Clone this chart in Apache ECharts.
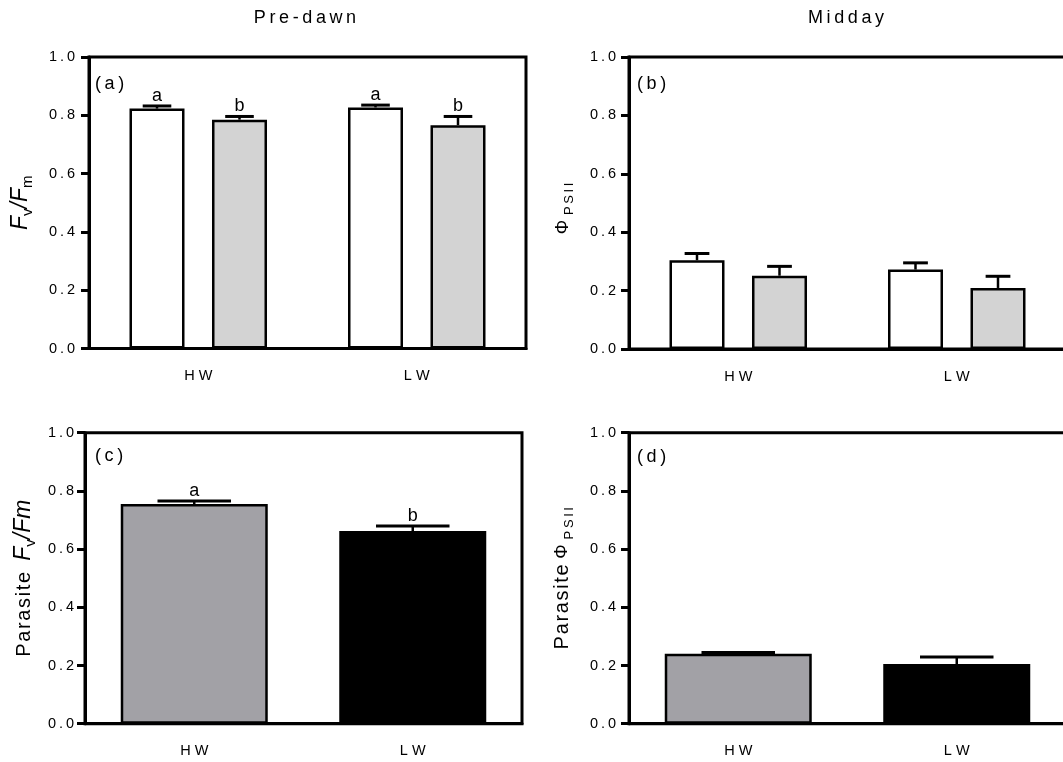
<!DOCTYPE html>
<html>
<head>
<meta charset="utf-8">
<script src="https://cdn.jsdelivr.net/npm/echarts@6/dist/echarts.min.js"></script>
<style>
  html, body { margin: 0; padding: 0; background: #fff; }
  #chart { width: 1063px; height: 762px; }
</style>
</head>
<body>
<div id="chart"></div>
<script>
// ---- data ----
const categories = ['HW', 'LW'];

// (a) pre-dawn host Fv/Fm
const predawnOpen = [0.823, 0.827];
const predawnOpenErr = [0.009, 0.008];
const predawnShaded = [0.785, 0.766];
const predawnShadedErr = [0.011, 0.030];
const predawnOpenLetters = ['a', 'a'];
const predawnShadedLetters = ['b', 'b'];

// (b) midday host PhiPSII
const middayOpen = [0.304, 0.272];
const middayOpenErr = [0.023, 0.023];
const middayShaded = [0.251, 0.209];
const middayShadedErr = [0.032, 0.040];

// (c) parasite Fv/Fm
const parasiteFvFm = [0.755, 0.662];
const parasiteFvFmErr = [0.010, 0.017];
const parasiteFvFmLetters = ['a', 'b'];

// (d) parasite PhiPSII
const parasitePhi = [0.240, 0.205];
const parasitePhiErr = [0.005, 0.024];

// ---- styling ----
const FONT = '"Liberation Sans", Arial, Helvetica, sans-serif';
const INK = '#000';
const OPEN_FILL = '#ffffff';
const SHADED_FILL = '#d3d3d3';
const PARASITE_FILLS = ['#a2a1a6', '#000000'];

// widen text with thin spaces between glyphs
const track = (s, gap) => s.split('').join(gap);

const GROUP_BAR_W = 55;
const GROUP_GAP = 0.5;              // fraction of bar width between paired bars
const SINGLE_BAR_W = 147;

const grids = [
  { left: 89, top: 57, width: 437, height: 291.5 },
  { left: 629, top: 57, width: 437, height: 292 },
  { left: 85, top: 432.7, width: 437, height: 291 },
  { left: 629, top: 432.7, width: 437, height: 291 }
].map(g => Object.assign({
  show: true, borderColor: '#000', borderWidth: 3,
  backgroundColor: 'transparent', outerBoundsMode: 'none', containLabel: false
}, g));

const labelMargins = [14, 13, 11, 13];

const xAxes = grids.map((g, i) => ({
  type: 'category', gridIndex: i, data: categories,
  axisLine: { lineStyle: { color: '#000', width: 3 } },
  axisTick: { alignWithLabel: true, length: 8, lineStyle: { color: '#000', width: 3 } },
  axisLabel: { margin: 20, fontSize: 14.5, fontFamily: FONT, color: INK,
               formatter: v => track(v, ' ') },
  splitLine: { show: false }
}));

const nameRich = {
  i: { fontSize: 23, fontStyle: 'italic', fontFamily: FONT, color: INK, lineHeight: 28, verticalAlign: 'middle' },
  s: { fontSize: 15, fontFamily: FONT, color: INK, lineHeight: 12, verticalAlign: 'bottom' },
  n: { fontSize: 20, fontFamily: FONT, color: INK, lineHeight: 28, verticalAlign: 'middle' },
  p: { fontSize: 18, fontFamily: FONT, color: INK, lineHeight: 26, verticalAlign: 'middle' },
  ps: { fontSize: 13, fontFamily: FONT, color: INK, lineHeight: 10, verticalAlign: 'bottom' }
};

const PSII = track('PSII', '\u2009');
const yNames = [
  '{i|F}{s|v}{i|/F}{s|m}',
  '{p|\u03A6 }{ps|' + PSII + '   }',
  '{n|' + track('Parasite', '\u200A') + '  }{i|F}{s|v}{i|/Fm}',
  '{n|' + track('Parasite', '\u200A') + ' }{p|\u03A6 }{ps|' + PSII + '}'
];
const nameGaps = [54, 53, 47, 53];

const yAxes = grids.map((g, i) => ({
  type: 'value', gridIndex: i, min: 0, max: 1, interval: 0.2,
  name: yNames[i], nameLocation: 'middle', nameGap: nameGaps[i],
  nameTextStyle: { rich: nameRich },
  axisLine: { show: true, lineStyle: { color: '#000', width: 3 } },
  axisTick: { show: true, length: 8, lineStyle: { color: '#000', width: 3 } },
  axisLabel: { margin: labelMargins[i], fontSize: 14.5, fontFamily: FONT, color: INK,
               formatter: v => track(v.toFixed(1), '\u2009') },
  splitLine: { show: false }
}));

function barSeries(gridIdx, name, values, fill, width, gap) {
  return {
    type: 'bar', name, xAxisIndex: gridIdx, yAxisIndex: gridIdx,
    data: values.map((v, k) => ({
      value: v,
      itemStyle: { color: Array.isArray(fill) ? fill[k] : fill }
    })),
    barWidth: width, barGap: (gap * 100) + '%',
    itemStyle: { borderColor: '#000', borderWidth: 2.5 },
    z: 2
  };
}

// error bar (upper whisker + cap) with an optional letter on top
function errSeries(gridIdx, values, errs, letters, offset, capW) {
  return {
    type: 'custom', xAxisIndex: gridIdx, yAxisIndex: gridIdx, z: 3,
    data: values.map((v, k) => [k, v, errs[k]]),
    renderItem: (params, api) => {
      const k = api.value(0), v = api.value(1), e = api.value(2);
      const base = api.coord([k, v]);
      const top = api.coord([k, v + e]);
      const x = base[0] + offset;
      const kids = [
        { type: 'line', shape: { x1: x, y1: base[1], x2: x, y2: top[1] },
          style: { stroke: '#000', lineWidth: 2.5 } },
        { type: 'line', shape: { x1: x - capW / 2, y1: top[1], x2: x + capW / 2, y2: top[1] },
          style: { stroke: '#000', lineWidth: 3 } }
      ];
      if (letters) {
        kids.push({ type: 'text', x: x, y: top[1] - 1,
          style: { text: letters[params.dataIndex], fontSize: 18, fontFamily: FONT,
                   fill: INK, align: 'center', verticalAlign: 'bottom' } });
      }
      return { type: 'group', children: kids };
    }
  };
}

const pairOffset = GROUP_BAR_W * (1 + GROUP_GAP) / 2;

const series = [
  barSeries(0, 'open', predawnOpen, OPEN_FILL, GROUP_BAR_W, GROUP_GAP),
  barSeries(0, 'shaded', predawnShaded, SHADED_FILL, GROUP_BAR_W, GROUP_GAP),
  errSeries(0, predawnOpen, predawnOpenErr, predawnOpenLetters, -pairOffset, GROUP_BAR_W * 0.52),
  errSeries(0, predawnShaded, predawnShadedErr, predawnShadedLetters, pairOffset, GROUP_BAR_W * 0.52),

  barSeries(1, 'open', middayOpen, OPEN_FILL, GROUP_BAR_W, GROUP_GAP),
  barSeries(1, 'shaded', middayShaded, SHADED_FILL, GROUP_BAR_W, GROUP_GAP),
  errSeries(1, middayOpen, middayOpenErr, null, -pairOffset, GROUP_BAR_W * 0.45),
  errSeries(1, middayShaded, middayShadedErr, null, pairOffset, GROUP_BAR_W * 0.45),

  barSeries(2, 'parasite', parasiteFvFm, PARASITE_FILLS, SINGLE_BAR_W, 0),
  errSeries(2, parasiteFvFm, parasiteFvFmErr, parasiteFvFmLetters, 0, SINGLE_BAR_W * 0.5),

  barSeries(3, 'parasite', parasitePhi, PARASITE_FILLS, SINGLE_BAR_W, 0),
  errSeries(3, parasitePhi, parasitePhiErr, null, 0, SINGLE_BAR_W * 0.5)
];

const textEl = (text, x, y, size, align) => ({
  type: 'text', x, y, silent: true,
  style: { text, fontSize: size, fontFamily: FONT, fill: INK,
           align: align, verticalAlign: 'middle' }
});

const graphic = [
  textEl(track('Pre-dawn', '\u2009'), 305, 18, 18, 'center'),
  textEl(track('Midday', '\u2009'), 846, 18, 18, 'center'),
  textEl(track('(a)', '\u2009'), 95, 84, 18, 'left'),
  textEl(track('(b)', '\u2009'), 637, 84, 18, 'left'),
  textEl(track('(c)', '\u2009'), 95, 456, 18, 'left'),
  textEl(track('(d)', '\u2009'), 637, 457, 18, 'left')
];

const chart = echarts.init(document.getElementById('chart'), null, { renderer: 'canvas' });
chart.setOption({
  animation: false,
  backgroundColor: '#fff',
  grid: grids,
  xAxis: xAxes,
  yAxis: yAxes,
  series,
  graphic
});
</script>
</body>
</html>
